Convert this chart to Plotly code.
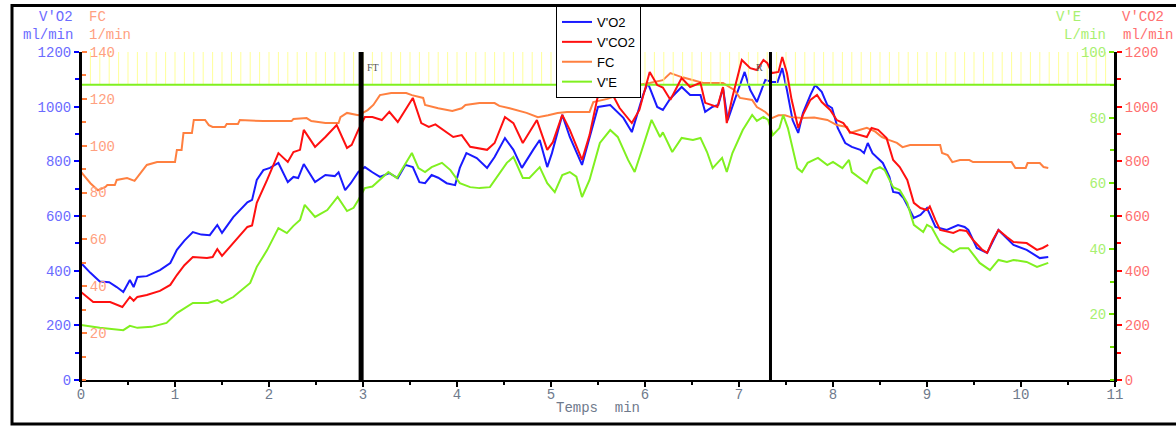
import plotly.graph_objects as go

# ---------------- data ----------------
t_vo2 = [0.0, 0.1, 0.2, 0.3, 0.38, 0.45, 0.52, 0.56, 0.6, 0.7, 0.84, 0.95, 1.02, 1.1, 1.19, 1.28, 1.37, 1.45, 1.5,
         1.62, 1.77, 1.82, 1.87, 1.94, 2.01, 2.1, 2.2, 2.26, 2.31, 2.37, 2.49, 2.6, 2.7, 2.74, 2.81, 2.87, 2.95,
         3.02, 3.1, 3.18, 3.28, 3.37, 3.45, 3.53, 3.6, 3.66, 3.73, 3.8, 3.89, 3.98, 4.03, 4.1, 4.21, 4.32, 4.4,
         4.51, 4.6, 4.69, 4.81, 4.88, 4.96, 5.01, 5.12, 5.2, 5.33, 5.41, 5.5, 5.63, 5.77, 5.86, 5.98, 6.03, 6.13,
         6.19, 6.27, 6.39, 6.48, 6.59, 6.64, 6.72, 6.78, 6.83, 6.88, 6.98, 7.06, 7.12, 7.19, 7.28, 7.35, 7.41,
         7.46, 7.51, 7.57, 7.63, 7.68, 7.76, 7.81, 7.88, 7.94, 7.99, 8.05, 8.13, 8.2, 8.29, 8.33, 8.37, 8.42,
         8.53, 8.6, 8.64, 8.7, 8.75, 8.8, 8.86, 8.93, 9.0, 9.09, 9.21, 9.33, 9.4, 9.44, 9.53, 9.64, 9.76, 9.92,
         10.06, 10.2, 10.29]
vo2 = [428, 392, 360, 358, 340, 322, 366, 340, 377, 380, 402, 428, 476, 510, 541, 532, 530, 567, 538,
       596, 650, 659, 732, 768, 776, 794, 724, 743, 739, 790, 724, 750, 746, 760, 695, 720, 761,
       779, 760, 743, 757, 739, 787, 779, 724, 720, 750, 740, 720, 713, 776, 830, 812, 776, 816,
       885, 842, 776, 842, 878, 779, 830, 970, 889, 787, 889, 999, 1006, 959, 907, 1043, 1087, 999,
       988, 1030, 1072, 1043, 1043, 981, 1000, 1006, 1068, 951, 1050, 1127, 1061, 1017, 1098, 1090, 1090,
       1141, 1061, 951, 904, 977, 1043, 1079, 1054, 1006, 995, 922, 867, 853, 842, 830, 867, 830,
       794, 743, 688, 684, 666, 633, 593, 604, 629, 560, 549, 567, 560, 549, 483, 465, 549, 494,
       476, 446, 450]

t_vco2 = [0.0, 0.13, 0.31, 0.44, 0.52, 0.56, 0.6, 0.7, 0.84, 0.95, 1.02, 1.1, 1.19, 1.34, 1.4, 1.45, 1.5, 1.62,
          1.77, 1.82, 1.87, 1.98, 2.1, 2.2, 2.26, 2.33, 2.37, 2.49, 2.6, 2.72, 2.83, 2.88, 2.95, 3.02, 3.1, 3.2,
          3.28, 3.37, 3.48, 3.53, 3.62, 3.7, 3.77, 3.89, 3.96, 4.05, 4.14, 4.32, 4.4, 4.51, 4.6, 4.7, 4.85,
          4.96, 5.02, 5.12, 5.2, 5.33, 5.41, 5.49, 5.55, 5.6, 5.63, 5.73, 5.86, 5.94, 6.05, 6.13, 6.19, 6.27,
          6.39, 6.48, 6.59, 6.64, 6.77, 6.83, 6.87, 6.93, 7.03, 7.12, 7.19, 7.26, 7.3, 7.35, 7.42, 7.46, 7.51,
          7.56, 7.63, 7.68, 7.76, 7.83, 7.88, 7.97, 8.04, 8.11, 8.18, 8.29, 8.36, 8.41, 8.48, 8.57, 8.64,
          8.71, 8.79, 8.86, 8.93, 9.0, 9.03, 9.09, 9.14, 9.28, 9.35, 9.42, 9.49, 9.59, 9.64, 9.7, 9.76, 9.85,
          9.92, 10.06, 10.17, 10.23, 10.29]
vco2 = [322, 285, 285, 267, 304, 290, 304, 311, 326, 348, 384, 420, 450, 446, 450, 479, 454, 501,
        560, 565, 648, 732, 830, 798, 834, 842, 915, 853, 889, 933, 849, 860, 915, 962, 962, 951,
        981, 944, 1006, 1032, 940, 926, 935, 904, 889, 896, 853, 842, 867, 962, 940, 867, 951,
        842, 870, 970, 915, 805, 896, 1025, 1100, 1080, 1061, 995, 940, 988, 1127, 1079, 1070, 1025,
        1105, 1072, 1087, 1014, 999, 1072, 940, 1035, 1171, 1141, 1134, 1171, 1160, 1123, 1127, 1182, 1123,
        1025, 922, 970, 1025, 1043, 1017, 988, 951, 940, 907, 896, 889, 922, 915, 885, 805,
        779, 732, 648, 629, 622, 635, 585, 549, 538, 549, 545, 512, 476, 465, 512, 549, 523,
        505, 501, 476, 483, 494]

t_fc = [0.0, 0.1, 0.18, 0.26, 0.28, 0.36, 0.38, 0.49, 0.57, 0.7, 0.81, 1.0, 1.02, 1.07, 1.09, 1.18, 1.2, 1.32,
        1.36, 1.4, 1.53, 1.55, 1.67, 1.69, 1.94, 2.24, 2.26, 2.4, 2.45, 2.6, 2.74, 2.76, 2.83, 2.95, 3.05, 3.11,
        3.18, 3.3, 3.46, 3.52, 3.64, 3.66, 3.8, 3.95, 4.05, 4.09, 4.24, 4.4, 4.45, 4.56, 4.74, 4.86, 4.97,
        5.07, 5.17, 5.41, 5.45, 5.6, 5.75, 5.85, 5.94, 6.05, 6.19, 6.27, 6.39, 6.62, 6.83, 6.9, 6.95, 7.01,
        7.14, 7.19, 7.28, 7.35, 7.42, 7.49, 7.55, 7.68, 7.8, 7.94, 8.04, 8.15, 8.18, 8.28, 8.36, 8.45, 8.52,
        8.6, 8.68, 8.74, 8.82, 9.14, 9.16, 9.22, 9.27, 9.35, 9.45, 9.49, 9.9, 9.94, 10.05, 10.07, 10.2,
        10.24, 10.29]
fc = [88.8, 84, 81, 82.4, 83.2, 83.2, 85.4, 86.2, 85, 91.8, 93, 93, 98.2, 98.2, 105.4, 105.4, 111, 111,
      108.8, 108, 108, 109.3, 109.3, 111, 110.5, 110.5, 111.4, 111.8, 110.5, 109.7, 109.7, 112.2, 114, 113,
      115.2, 117.4, 121.6, 122.5, 122.5, 121.6, 120.4, 117.4, 116, 114.8, 116, 117.4, 118.2, 118.2, 117,
      116, 114, 112.2, 113, 114, 114.4, 114.4, 118.6, 120, 122, 124, 126, 126.8, 128, 131, 129.3, 126.8,
      126.8, 125, 123.8, 120.4, 119.5, 116.5, 114.4, 111.8, 113, 113, 112.2, 111.8, 112, 111, 108.8, 108,
      105.4, 106.7, 107.6, 106, 103.7, 102.4, 101.2, 99.4, 100.3, 100.3, 96.9, 96, 93, 93.9, 93.9, 93, 93,
      90.5, 90.5, 92.6, 92.6, 90.9, 90.5]

t_ve = [0.0, 0.2, 0.45, 0.52, 0.6, 0.75, 0.91, 1.02, 1.19, 1.35, 1.45, 1.5, 1.62, 1.8, 1.87, 1.98, 2.1, 2.19,
        2.26, 2.33, 2.38, 2.49, 2.62, 2.73, 2.83, 2.9, 2.95, 3.02, 3.1, 3.18, 3.27, 3.36, 3.43, 3.52, 3.59,
        3.66, 3.73, 3.84, 3.93, 4.03, 4.14, 4.24, 4.35, 4.46, 4.53, 4.6, 4.7, 4.77, 4.88, 4.96, 5.04, 5.12,
        5.2, 5.27, 5.33, 5.41, 5.52, 5.63, 5.71, 5.82, 5.89, 5.96, 6.07, 6.16, 6.19, 6.29, 6.39, 6.51, 6.59,
        6.66, 6.72, 6.82, 6.87, 6.93, 7.04, 7.14, 7.19, 7.26, 7.31, 7.36, 7.43, 7.47, 7.52, 7.62, 7.67,
        7.73, 7.84, 7.94, 8.0, 8.1, 8.17, 8.2, 8.28, 8.36, 8.43, 8.5, 8.55, 8.64, 8.71, 8.79, 8.86, 8.96,
        9.0, 9.05, 9.14, 9.28, 9.35, 9.44, 9.56, 9.67, 9.76, 9.85, 9.92, 10.06, 10.17, 10.29]
ve = [16.8, 15.9, 15.2, 16.5, 15.9, 16.2, 17.4, 20.4, 23.5, 23.5, 24.4, 23.5, 25.3, 29.6, 34.5, 39.6, 46.3, 44.8,
      47, 48.8, 53.4, 49.7, 51.8, 55.8, 51.5, 52.5, 54.9, 58.5, 59, 61, 63.4, 61.6, 64.9, 69.2, 64.6,
      63.4, 64.9, 66.2, 64, 60, 58.8, 58.5, 58.8, 63.1, 66.2, 68, 61.6, 61.6, 64.9, 60, 57.3, 62.5,
      63.4, 62, 55.8, 61, 72.3, 76.2, 74.1, 67.1, 63.4, 69.5, 79.3, 74.1, 75.5, 69.5, 73.8, 73.2, 73.8,
      69.5, 64.6, 67.7, 63.4, 69.2, 76.2, 80.8, 79, 80.2, 79.3, 74.7, 76.8, 80.8, 76.8, 64.6, 63.4,
      66.2, 67.7, 65.5, 66.5, 64.6, 67.1, 63.4, 61.6, 60, 64, 64.9, 64, 58.8, 57.9, 54, 47.3, 45.1,
      47.3, 46.5, 41.8, 39, 40.2, 40.2, 35.7, 33.5, 36.6, 36, 36.6, 36, 34.5, 35.7]

ve_threshold = 90          # V'E upper limit line
ve_max = 100
marker_ft = 2.98           # FT event (min)
marker_r = 7.335           # R event (min)

x_ticks = list(range(0, 12))
vo2_ticks = list(range(0, 1201, 200))
fc_ticks = list(range(20, 141, 20))
ve_ticks = list(range(20, 101, 20))
vco2_ticks = list(range(0, 1201, 200))

# ---------------- styling ----------------
C_VO2, C_VCO2, C_FC, C_VE = "#1a1aff", "#ff1010", "#ff8040", "#80f020"
MONO = "Liberation Mono"
W, H = 1176, 426
ML, MR, MT, MB = 81, 61, 52, 46
PW, PH = W - ML - MR, H - MT - MB


def px(xp):
    return (xp - ML) / PW


def py(yp):
    return (H - MB - yp) / PH


fig = go.Figure()

# yellow hatch band above the V'E threshold (decoration)
hx, hy = [], []
for i in range(0, 111):
    hx += [i / 10, i / 10, None]
    hy += [ve_threshold, ve_max, None]
fig.add_trace(go.Scatter(x=hx, y=hy, yaxis="y3", mode="lines",
                         line=dict(color="#ffff99", width=1), showlegend=False, hoverinfo="skip"))
fig.add_trace(go.Scatter(x=[0, 11], y=[ve_threshold, ve_threshold], yaxis="y3", mode="lines",
                         line=dict(color=C_VE, width=2), showlegend=False, hoverinfo="skip"))

fig.add_trace(go.Scatter(x=t_vo2, y=vo2, name="V'O2", yaxis="y", mode="lines",
                         line=dict(color=C_VO2, width=2), legendrank=1))
fig.add_trace(go.Scatter(x=t_fc, y=fc, name="FC", yaxis="y2", mode="lines",
                         line=dict(color=C_FC, width=2), legendrank=3))
fig.add_trace(go.Scatter(x=t_ve, y=ve, name="V'E", yaxis="y3", mode="lines",
                         line=dict(color=C_VE, width=2), legendrank=4))
fig.add_trace(go.Scatter(x=t_vco2, y=vco2, name="V'CO2", yaxis="y4", mode="lines",
                         line=dict(color=C_VCO2, width=2), legendrank=2))


def tickfont(c):
    return dict(family=MONO, size=14, color=c)


common_y = dict(showgrid=False, zeroline=False, automargin=False, showline=True,
                linecolor="black", linewidth=2, ticklen=5, tickwidth=2, ticks="outside")

fig.update_layout(
    width=W, height=H,
    margin=dict(l=ML, r=MR, t=MT, b=MB, autoexpand=False),
    paper_bgcolor="white", plot_bgcolor="white",
    xaxis=dict(range=[0, 11], tickvals=x_ticks, showgrid=False, zeroline=False, showline=True,
               linecolor="black", linewidth=2, ticks="outside", ticklen=5, tickwidth=2, tickcolor="black",
               minor=dict(dtick=0.5, ticks="outside", ticklen=3, tickwidth=2, tickcolor="black"),
               tickfont=tickfont("#6f7a8c"), automargin=False, ticklabelstandoff=-5,
               title=dict(text="Temps\u00a0\u00a0min", font=dict(family=MONO, size=14, color="#6f7a8c"),
                          standoff=0)),
    # V'O2: left side, labels outside
    yaxis=dict(range=[0, 1200], tickvals=vo2_ticks, side="left", tickcolor="#0000ff",
               tickfont=tickfont("#6b6bff"),
               minor=dict(dtick=100, ticks="outside", ticklen=4, tickwidth=2, tickcolor="#0000ff"),
               **common_y),
    # FC: on the left axis line, labels facing into the plot
    yaxis2=dict(range=[0, 140], tickvals=fc_ticks, side="right", overlaying="y", anchor="free", position=0,
                tickcolor=C_FC, tickfont=tickfont("#ffa080"),
                minor=dict(dtick=10, ticks="outside", ticklen=4, tickwidth=2, tickcolor=C_FC),
                **common_y),
    # V'E: on the right axis line, labels facing into the plot
    yaxis3=dict(range=[0, 100], tickvals=ve_ticks, side="left", overlaying="y", anchor="free", position=1,
                tickcolor="#70e000", tickfont=tickfont("#a8f070"),
                minor=dict(dtick=10, ticks="outside", ticklen=4, tickwidth=2, tickcolor="#70e000"),
                **common_y),
    # V'CO2: right side, labels outside
    yaxis4=dict(range=[0, 1200], tickvals=vco2_ticks, side="right", overlaying="y", anchor="x",
                tickcolor="#ff0000", tickfont=tickfont("#ff7070"),
                minor=dict(dtick=100, ticks="outside", ticklen=4, tickwidth=2, tickcolor="#ff0000"),
                **common_y),
    legend=dict(x=px(556), y=py(6), xanchor="left", yanchor="top", bgcolor="white",
                bordercolor="black", borderwidth=1, font=dict(family="Liberation Sans", size=13, color="black"),
                itemwidth=30, tracegroupgap=0),
    showlegend=True,
)

# event markers
fig.add_shape(type="line", xref="x", yref="paper", x0=marker_ft, x1=marker_ft, y0=0, y1=1,
              line=dict(color="black", width=5))
fig.add_shape(type="line", xref="x", yref="paper", x0=marker_r, x1=marker_r, y0=0, y1=1,
              line=dict(color="black", width=3))
fig.add_annotation(x=marker_ft, xref="x", y=py(60), yref="paper", text="FT", showarrow=False,
                   xanchor="left", xshift=4, font=dict(family="Liberation Serif", size=10, color="#555555"))
fig.add_annotation(x=marker_r, xref="x", y=py(60), yref="paper", text="R", showarrow=False,
                   xanchor="right", xshift=-5, font=dict(family="Liberation Serif", size=10, color="#555555"))

# outer frame
fig.add_shape(type="rect", xref="paper", yref="paper", x0=px(12), x1=px(1182), y0=py(424), y1=py(5.5),
              line=dict(color="black", width=3), fillcolor="rgba(0,0,0,0)", layer="above")


# axis unit titles
def unit(text, xp, yp, color, anchor="left"):
    fig.add_annotation(x=px(xp), y=py(yp), xref="paper", yref="paper", text=text, showarrow=False,
                       xanchor=anchor, yanchor="middle", font=dict(family=MONO, size=14, color=color))


unit("V'O2", 75, 17, "#6b6bff", "right")
unit("ml/min", 75, 35, "#6b6bff", "right")
unit("FC", 87, 17, "#ffa080")
unit("1/min", 87, 35, "#ffa080")
unit("V'E", 1054, 17, "#a8f070")
unit("L/min", 1108, 35, "#a8f070", "right")
unit("V'CO2", 1120, 17, "#ff7070")
unit("ml/min", 1121, 35, "#ff7070")

fig.write_html("out.html")
